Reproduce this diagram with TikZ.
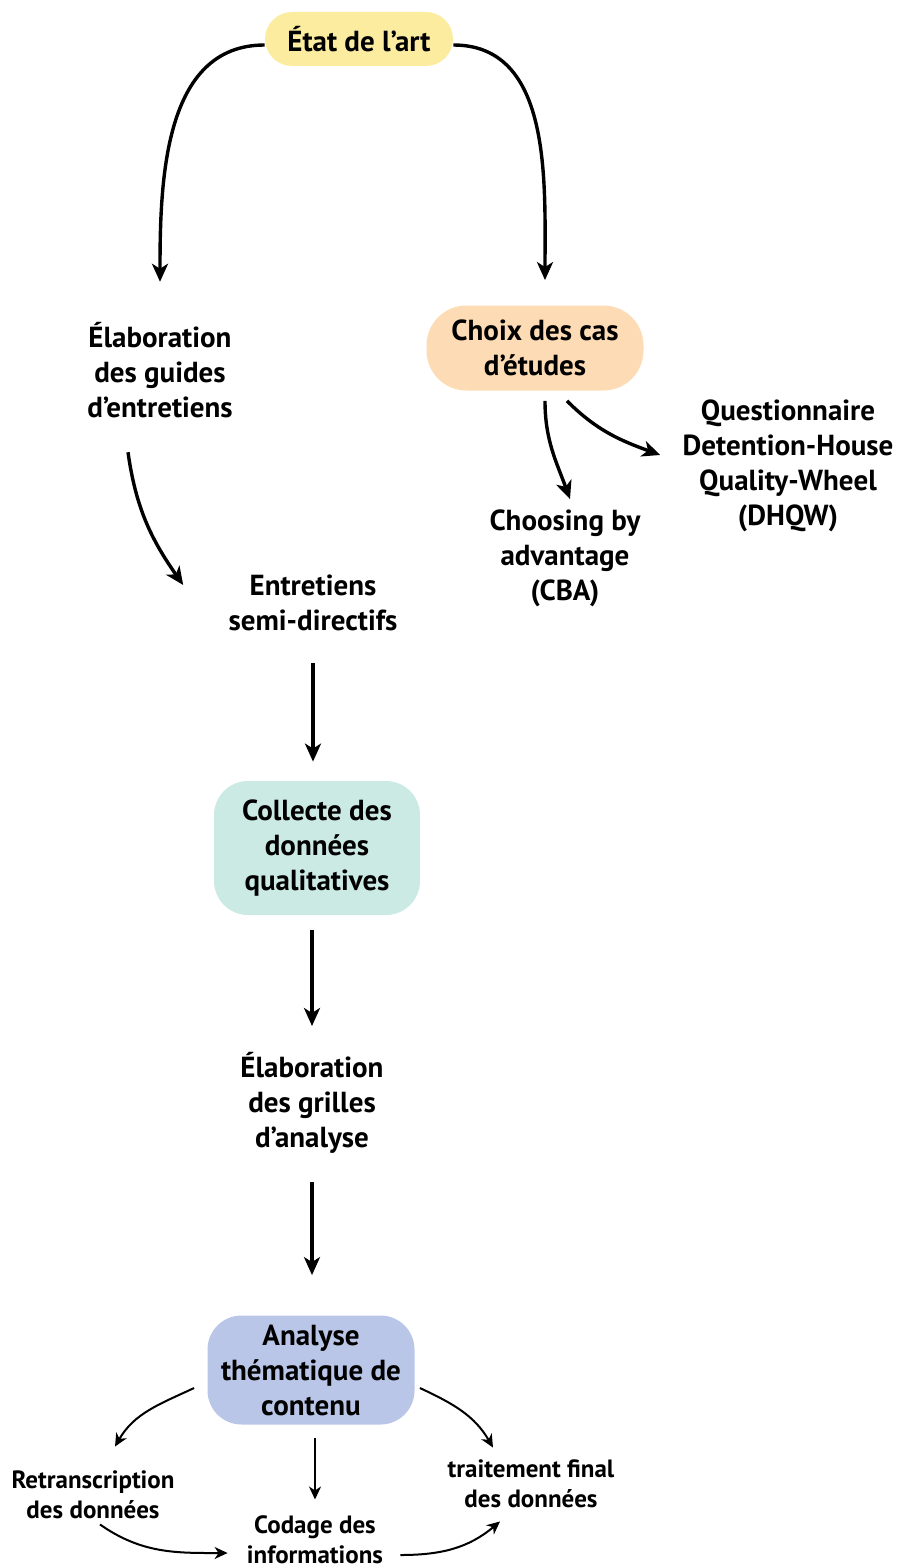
\documentclass[tikz,border=0pt]{standalone}
\usepackage{fontspec}
\setmainfont{PT Sans}
\usetikzlibrary{arrows.meta}

\definecolor{artjaune}{RGB}{252,236,160}
\definecolor{caspeche}{RGB}{253,219,180}
\definecolor{collvert}{RGB}{204,234,228}
\definecolor{analbleu}{RGB}{185,198,232}

\begin{document}
\begin{tikzpicture}[x=0.5pt,y=0.5pt,yscale=-1,xscale=1,
  txt/.style={align=center,inner sep=0pt,font=\fontsize{14.5}{17.5}\selectfont\bfseries},
  petit/.style={align=center,inner sep=0pt,font=\fontsize{12.5}{15}\selectfont\bfseries},
  boite/.style={txt,draw=none,rounded corners=#1},
  fl/.style={line width=1.7pt,-{Stealth[length=9pt,width=8pt,inset=2.5pt]}},
  flpetit/.style={line width=1pt,-{Stealth[length=6.5pt,width=6pt,inset=2pt]}}]
\useasboundingbox (0,0) rectangle (901,1568);

% Text Node
\node [boite=13.5pt,fill=artjaune,minimum width=94pt,minimum height=27pt] (etat) at (359,39) {État de l’art};
\node [txt] (elab) at (160,370) {Élaboration\\des guides\\d’entretiens};
\node [boite=20pt,fill=caspeche,minimum width=108.5pt,minimum height=42.5pt] (choix) at (535,348) {Choix des cas\\d’études};
\node [txt] (quest) at (788,466) {Questionnaire\\Detention-House\\Quality-Wheel\\(DHQW)};
\node [txt] (cba) at (565,558) {Choosing by\\advantage\\(CBA)};
\node [txt] (entre) at (313,603) {Entretiens\\semi-directifs};
\node [boite=17pt,fill=collvert,minimum width=103pt,minimum height=67pt] (collecte) at (317,848) {Collecte des\\données\\qualitatives};
\node [txt] (grille) at (312,1103) {Élaboration\\des grilles\\d’analyse};
\node [boite=17pt,fill=analbleu,minimum width=103.5pt,minimum height=54.5pt] (analyse) at (311,1370) {Analyse\\thématique de\\contenu};
\node [petit] (retr) at (93,1495) {Retranscription\\des données};
\node [petit] (codage) at (315,1540) {Codage des\\informations};
\node [petit] (trait) at (531,1484) {traitement final\\des données};

% Curve Lines
\draw [fl] ([yshift=3pt]etat.west) to[out=180,in=-90] ([yshift=-20pt]elab.north);
\draw [fl] ([yshift=3pt]etat.east) to[out=0,in=-90] ([xshift=5pt,yshift=-12.5pt]choix.north);
\draw [fl] ([xshift=-16pt,yshift=17pt]elab.south) to[out=82,in=-125] ([xshift=-22.5pt,yshift=-9pt]entre.west);
\draw [fl] ([xshift=5pt,yshift=5pt]choix.south) to[out=90,in=-110] ([xshift=2.5pt,yshift=-5pt]cba.north);
\draw [fl] ([xshift=16pt,yshift=5pt]choix.south) to[out=45,in=-160] ([xshift=-11pt,yshift=-5.5pt]quest.west);

% Straight Lines
\draw [fl,shorten <=16pt,shorten >=9.5pt] (entre.south) -- (entre.south |- collecte.north);
\draw [fl,shorten <=7.5pt,shorten >=13pt] (collecte.south -| grille.north) -- (grille.north);
\draw [fl,shorten <=14pt,shorten >=20pt] (grille.south) -- (grille.south |- analyse.north);

% Analyse
\draw [flpetit] ([xshift=-6.5pt,yshift=9pt]analyse.west) to[out=155,in=-60] ([xshift=11pt,yshift=-12pt]retr.north);
\draw [flpetit,shorten <=6.5pt,shorten >=8pt] ([xshift=2pt]analyse.south) -- ([xshift=2pt]analyse.south |- codage.north);
\draw [flpetit] ([xshift=2.5pt,yshift=9pt]analyse.east) to[out=25,in=-120] ([xshift=-19pt,yshift=-6pt]trait.north);
\draw [flpetit] ([xshift=3.5pt,yshift=2.5pt]retr.south) to[out=35,in=180] ([xshift=-9.5pt,yshift=6.5pt]codage.west);
\draw [flpetit] ([xshift=8.5pt,yshift=7.5pt]codage.east) to[out=0,in=140] ([xshift=-15.5pt,yshift=6.5pt]trait.south);
\end{tikzpicture}
\end{document}
